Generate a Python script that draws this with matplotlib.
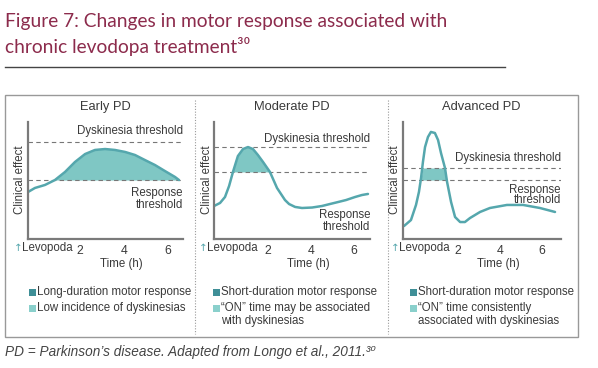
import numpy as np
import matplotlib
matplotlib.use("Agg")
import matplotlib.pyplot as plt
from matplotlib.patches import Rectangle
from matplotlib.lines import Line2D

# curves (time in h, clinical effect 0-10)
early_t = [-0.36, -0.05, 0.41, 0.86, 1.32, 1.77, 2.23, 2.68, 3.14, 3.59, 4.05, 4.5,
           4.95, 5.41, 5.86, 6.32, 6.5]
early_y = [4.02, 4.36, 4.62, 5.04, 5.73, 6.58, 7.26, 7.61, 7.69, 7.61, 7.44, 7.18,
           6.75, 6.32, 5.81, 5.30, 5.04]

moderate_t = [-0.51, -0.23, 0.0, 0.19, 0.37, 0.6, 0.84, 1.07, 1.3, 1.53, 1.77, 2.09,
              2.42, 2.79, 2.98, 3.26, 3.58, 4.05, 4.51, 4.88, 5.26, 5.63, 6.05, 6.37, 6.65]
moderate_y = [2.82, 3.08, 3.59, 4.53, 5.73, 7.09, 7.69, 7.86, 7.69, 7.18, 6.58, 5.73,
              4.36, 3.33, 2.99, 2.74, 2.65, 2.69, 2.82, 2.99, 3.16, 3.33, 3.59, 3.76, 3.85]

advanced_t = [-0.57, -0.24, 0.0, 0.14, 0.24, 0.33, 0.43, 0.57, 0.71, 0.9, 1.05, 1.19,
              1.38, 1.48, 1.67, 1.86, 2.1, 2.33, 2.57, 3.05, 3.52, 4.33, 5.1, 5.9, 6.62]
advanced_y = [1.11, 1.62, 2.91, 4.02, 5.21, 6.58, 7.86, 8.72, 9.15, 9.06, 8.46, 7.35,
              6.07, 4.87, 3.16, 1.88, 1.45, 1.45, 1.79, 2.31, 2.65, 2.91, 2.91, 2.65, 2.31]

# dyskinesia / response thresholds
dysk_thr = [8.29, 7.86, 6.07]
resp_thr = [5.04, 5.73, 5.04]

panel_titles = ["Early PD", "Moderate PD", "Advanced PD"]
tick_vals = [2, 4, 6]
legend_1 = ["Long-duration motor response", "Short-duration motor response",
            "Short-duration motor response"]
legend_2 = ["Low incidence of dyskinesias", "\u201cON\u201d time may be associated\nwith dyskinesias",
            "\u201cON\u201d time consistently\nassociated with dyskinesias"]

W, H = 598, 368
fig = plt.figure(figsize=(W / 100, H / 100), dpi=100)

def fx(px):
    return px / W

def fy(py):
    return 1 - py / H

TXT = "#3a3a3a"
TEAL = "#55a7ad"
FILL = "#7fc7c4"
DARK = "#3f8f97"
LIGHT = "#8ad0cc"
FONT = ["Liberation Sans", "DejaVu Sans"]
TFONT = ["Lato", "DejaVu Sans"]
FS = 8.3

# title
fig.text(fx(5), fy(22), "Figure 7: Changes in motor response associated with",
         color="#8c2b4c", fontsize=13.8, family=TFONT, va="center")
fig.text(fx(5), fy(47), "chronic levodopa treatment\u00b3\u2070",
         color="#8c2b4c", fontsize=13.8, family=TFONT, va="center")
fig.add_artist(Line2D([fx(5), fx(505)], [fy(67), fy(67)], color="#444444", lw=1))

# frame and dividers
fig.add_artist(Rectangle((fx(5), fy(337)), fx(578) - fx(5), fy(95) - fy(337),
                         fill=False, edgecolor="#999999", lw=1))
for xd in [195, 388]:
    fig.add_artist(Line2D([fx(xd), fx(xd)], [fy(100), fy(334)], color="#999999",
                          lw=0.8, linestyle=(0, (1, 1.5))))

# per-panel layout (pixels)
ax_left = [28, 214, 403]
ax_right = [183, 370, 561]
zero_px = [36, 225, 416]
px_per_h = [22, 21.5, 21]
title_x = [105, 292, 481]
ylab_x = [20, 207, 395]
arrow_x = [18, 203, 395]
time_x = [121, 308, 498]
sq_x = [29, 213, 410]
dysk_lab_y = [131, 139, 158]
resp_lab_y = [199, 221, 195]

curves = [(early_t, early_y), (moderate_t, moderate_y), (advanced_t, advanced_y)]

for i in range(3):
    top, bot = 122, 239
    ax = fig.add_axes([fx(ax_left[i]), fy(bot), fx(ax_right[i]) - fx(ax_left[i]), fy(top) - fy(bot)])
    ax.set_xlim((ax_left[i] - zero_px[i]) / px_per_h[i], (ax_right[i] - zero_px[i]) / px_per_h[i])
    ax.set_ylim(0, 10)
    ax.patch.set_alpha(0)
    for s in ["top", "right"]:
        ax.spines[s].set_visible(False)
    for s in ["left", "bottom"]:
        ax.spines[s].set_color("#7a7a7a")
        ax.spines[s].set_linewidth(1.6)
    ax.set_yticks([])
    ax.set_xticks(tick_vals)
    ax.set_xticklabels([str(v) for v in tick_vals], family=FONT, fontsize=8.8, color=TXT)
    ax.tick_params(axis="x", length=0, pad=4)

    t = np.array(curves[i][0])
    y = np.array(curves[i][1])
    x0, x1 = ax.get_xlim()
    ax.plot([x0, x1], [dysk_thr[i]] * 2, color="#777777", lw=0.8, dashes=(4, 3))
    ax.plot([x0, x1], [resp_thr[i]] * 2, color="#777777", lw=0.8, dashes=(4, 3))
    if i < 2:
        ax.fill_between(t, resp_thr[i], y, where=y >= resp_thr[i], interpolate=True,
                        color=FILL, lw=0)
    else:
        ax.fill_between(t, resp_thr[i], np.minimum(y, dysk_thr[i]), where=y >= resp_thr[i],
                        interpolate=True, color=FILL, lw=0)
    ax.plot(t, y, color=TEAL, lw=1.8, solid_capstyle="round", solid_joinstyle="round")

    fig.text(fx(title_x[i]), fy(107), panel_titles[i], family=FONT, fontsize=9.3,
             color=TXT, ha="center", va="center")
    fig.text(fx(ylab_x[i]), fy(180), "Clinical effect", family=FONT, fontsize=FS,
             color=TXT, ha="center", va="center", rotation=90)
    fig.text(fx(ax_right[i]), fy(dysk_lab_y[i]), "Dyskinesia threshold", family=FONT,
             fontsize=FS, color=TXT, ha="right", va="center")
    fig.text(fx(ax_right[i]), fy(resp_lab_y[i]), "Response\nthreshold", family=FONT,
             fontsize=FS, color=TXT, ha="right", va="center",
             linespacing=0.95 if i < 2 else 0.85)
    fig.text(fx(arrow_x[i]), fy(248), "\u2191", family="DejaVu Sans", fontsize=7.5,
             color=TEAL, ha="center", va="center")
    fig.text(fx(arrow_x[i] + 4), fy(248), "Levopoda", family=FONT, fontsize=FS,
             color=TXT, ha="left", va="center")
    fig.text(fx(time_x[i]), fy(264), "Time (h)", family=FONT, fontsize=FS,
             color=TXT, ha="center", va="center")

    # legend
    for k, (lab, col) in enumerate([(legend_1[i], DARK), (legend_2[i], LIGHT)]):
        yc = 292 + 16 * k
        fig.add_artist(Rectangle((fx(sq_x[i]), fy(yc + 3.5)), 7 / W, 7 / H, color=col, lw=0))
        lines = lab.split("\n")
        for j, line in enumerate(lines):
            fig.text(fx(sq_x[i] + 8), fy(yc + 13 * j), line, family=FONT, fontsize=FS,
                     color=TXT, ha="left", va="center")

fig.text(fx(5), fy(352), "PD = Parkinson\u2019s disease. Adapted from Longo et al., 2011.\u00b3\u2070",
         family=["Liberation Sans", "DejaVu Sans"], style="italic", fontsize=9.8,
         color="#444444", va="center")

fig.savefig("out.png", dpi=100)
